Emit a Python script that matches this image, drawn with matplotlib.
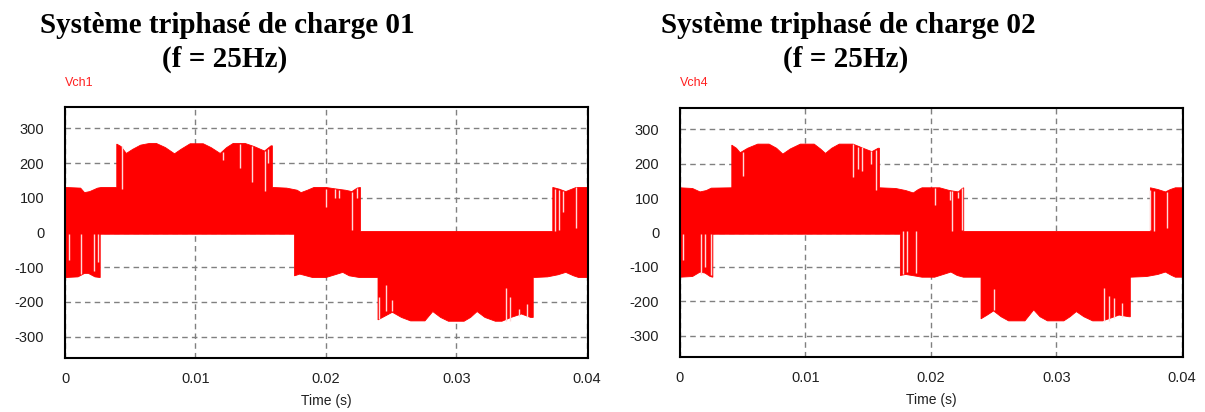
import matplotlib
matplotlib.use("Agg")
import matplotlib.pyplot as plt
import numpy as np

plt.rcParams["axes.unicode_minus"] = False

# envelope of the PWM load voltage (time in s, volts)
t1_up = [0, 0.0012, 0.0015, 0.0019, 0.0025, 0.0028, 0.00397, 0.00397, 0.0043, 0.0047, 0.0052, 0.0058,
         0.0065, 0.0070, 0.0077, 0.0084, 0.0089, 0.0096, 0.0106, 0.0112, 0.0119, 0.0124, 0.0129, 0.0138,
         0.0145, 0.0153, 0.0158, 0.0159, 0.0159, 0.0170, 0.0178, 0.0181, 0.0186, 0.0191, 0.0200, 0.0207,
         0.0215, 0.0220, 0.0224, 0.02265, 0.02265, 0.0374, 0.0374, 0.0379, 0.0384, 0.0388, 0.0392, 0.0401]
v1_up = [130, 128, 115, 118, 128, 130, 130, 255, 248, 228, 240, 252,
         257, 257, 245, 227, 240, 256, 256, 245, 228, 245, 257, 257,
         248, 235, 250, 250, 130, 128, 122, 115, 122, 130, 130, 126,
         122, 118, 128, 130, 3, 3, 130, 125, 118, 124, 130, 130]
t1_lo = [0, 0.0010, 0.0015, 0.0018, 0.0023, 0.0027, 0.0027, 0.0176, 0.0176, 0.0180, 0.0185, 0.0190,
         0.0200, 0.0207, 0.0213, 0.0218, 0.0226, 0.0240, 0.0240, 0.0246, 0.0251, 0.0258, 0.0265, 0.0276,
         0.0282, 0.0288, 0.0294, 0.0306, 0.0311, 0.0316, 0.0322, 0.0330, 0.0335, 0.0342, 0.0350, 0.0357,
         0.0359, 0.0359, 0.0370, 0.0378, 0.0384, 0.0390, 0.0394, 0.0401]
v1_lo = [-130, -128, -118, -118, -128, -130, -5, -5, -125, -120, -125, -130,
         -130, -122, -115, -125, -130, -130, -252, -240, -230, -245, -255, -255,
         -228, -245, -256, -256, -245, -228, -245, -256, -256, -245, -235, -245,
         -245, -130, -128, -122, -115, -125, -130, -130]
# gaps between pulses (time, from, to)
n1_t = [0.0003, 0.00126, 0.0022, 0.0025, 0.00435, 0.0121, 0.0134, 0.0143, 0.0153, 0.0156,
        0.0200, 0.0207, 0.0210, 0.0220, 0.0224, 0.0241, 0.0246, 0.0251, 0.0338, 0.0341,
        0.0348, 0.0354, 0.0376, 0.0379, 0.0382, 0.0392]
n1_lo = [-80, -120, -110, -85, 125, 210, 185, 145, 120, 200,
         73, 100, 100, 8, 100, -250, -225, -225, -256, -256,
         -240, -245, 3, 8, 60, 12]
n1_hi = [-5, -5, -5, -5, 250, 232, 255, 250, 235, 240,
         125, 126, 122, 118, 128, -185, -150, -195, -160, -185,
         -220, -205, 125, 122, 120, 130]

t2_up = [0, 0.0010, 0.0016, 0.0021, 0.0025, 0.00413, 0.00413, 0.0045, 0.0048, 0.0054, 0.0062, 0.0071,
         0.0077, 0.0082, 0.0088, 0.0096, 0.0107, 0.0112, 0.0116, 0.0121, 0.0127, 0.0138, 0.0146, 0.0153,
         0.0158, 0.0159, 0.0159, 0.0172, 0.0180, 0.0186, 0.0190, 0.0193, 0.0207, 0.0215, 0.0222, 0.0225,
         0.02262, 0.02262, 0.0375, 0.0375, 0.0381, 0.0387, 0.0391, 0.0395, 0.0401]
v2_up = [130, 128, 118, 122, 129, 130, 254, 245, 232, 245, 257, 257,
         245, 228, 243, 257, 257, 243, 230, 245, 257, 257, 245, 235,
         245, 245, 130, 128, 122, 115, 125, 130, 130, 122, 118, 128,
         130, 3, 3, 130, 125, 118, 125, 130, 130]
t2_lo = [0, 0.0010, 0.0016, 0.0020, 0.0024, 0.00262, 0.00262, 0.01757, 0.01757, 0.0180, 0.0185, 0.0193,
         0.0203, 0.0210, 0.0216, 0.0221, 0.0226, 0.0240, 0.0240, 0.0245, 0.0250, 0.0256, 0.0262, 0.0275,
         0.0282, 0.0287, 0.0293, 0.0306, 0.0311, 0.0316, 0.0322, 0.0329, 0.0337, 0.0344, 0.0350, 0.0358,
         0.0359, 0.0359, 0.0372, 0.0381, 0.0387, 0.0392, 0.0395, 0.0401]
v2_lo = [-130, -128, -115, -118, -128, -130, -5, -5, -125, -122, -125, -130,
         -130, -122, -115, -125, -130, -130, -251, -240, -228, -245, -257, -257,
         -225, -245, -257, -257, -245, -230, -245, -257, -257, -248, -240, -245,
         -245, -130, -128, -122, -115, -125, -130, -130]
n2_t = [0.0002, 0.00166, 0.00197, 0.0025, 0.0050, 0.0138, 0.0142, 0.0145, 0.0152, 0.0156,
        0.0203, 0.0215, 0.0217, 0.0222, 0.0225, 0.0178, 0.0181, 0.0188, 0.0250, 0.0338,
        0.0342, 0.0346, 0.0352, 0.0375, 0.0378, 0.0388]
n2_lo = [-80, -120, -100, -125, 165, 160, 185, 180, 200, 125,
         80, 95, 3, 100, 8, -120, -115, -118, -225, -256,
         -256, -250, -245, 8, 3, 12]
n2_hi = [-5, -5, -5, -5, 235, 257, 250, 248, 237, 240,
         130, 122, 120, 118, 128, 3, 3, 3, -165, -160,
         -185, -190, -205, 125, 122, 118]

x_ticks = [0, 0.01, 0.02, 0.03, 0.04]
x_labels = ["0", "0.01", "0.02", "0.03", "0.04"]
y_ticks = [-300, -200, -100, 0, 100, 200, 300]

titles = ["Système triphasé de charge 01", "Système triphasé de charge 02"]
subtitle = "(f = 25Hz)"
names = ["Vch1", "Vch4"]

sans = "Liberation Sans"
serif = "Liberation Serif"


def draw_panel(ax, t_up, v_up, t_lo, v_lo, n_t, n_lo, n_hi):
    xs = np.concatenate([t_up, t_lo[::-1]])
    ys = np.concatenate([v_up, v_lo[::-1]])
    ax.fill(xs, ys, color="#ff0000", lw=0.6, ec="#ff0000", zorder=2)
    ax.vlines(n_t, n_lo, n_hi, color="#ffd8d8", lw=1.0, zorder=3)
    ax.set_xlim(0, 0.0401)
    ax.set_ylim(-362, 362)
    ax.set_xticks(x_ticks)
    ax.set_xticklabels(x_labels)
    ax.set_yticks(y_ticks)
    ax.tick_params(length=0, labelsize=10.5, colors="#202020")
    ax.tick_params(axis="x", pad=10)
    ax.tick_params(axis="y", pad=15)
    for lab in ax.get_xticklabels() + ax.get_yticklabels():
        lab.set_fontfamily(sans)
    ax.grid(True, color="#808080", linestyle=(0, (4, 3)), lw=1.0, zorder=1)
    ax.set_axisbelow(True)
    for sp in ax.spines.values():
        sp.set_linewidth(1.5)
        sp.set_color("black")
    ax.set_xlabel("Time (s)", fontsize=10, family=sans, labelpad=6, color="#202020")


fig = plt.figure(figsize=(12.05, 4.12), dpi=100)
ax1 = fig.add_axes([65 / 1205, 1 - 358 / 412, 523 / 1205, 251 / 412])
ax2 = fig.add_axes([680 / 1205, 1 - 357 / 412, 503 / 1205, 249 / 412])

draw_panel(ax1, np.array(t1_up), np.array(v1_up), np.array(t1_lo), np.array(v1_lo), n1_t, n1_lo, n1_hi)
draw_panel(ax2, np.array(t2_up), np.array(v2_up), np.array(t2_lo), np.array(v2_lo), n2_t, n2_lo, n2_hi)

for cx, title in zip([227, 848], titles):
    fig.text(cx / 1205, 1 - 33 / 412, title, ha="center", va="baseline", fontsize=21,
             family=serif, weight="bold")
    fig.text((cx - 2) / 1205, 1 - 67 / 412, subtitle, ha="center", va="baseline", fontsize=21,
             family=serif, weight="bold")
fig.text(65 / 1205, 1 - 83 / 412, names[0], color="#ff2020", fontsize=9, family=sans, va="center")
fig.text(680 / 1205, 1 - 83 / 412, names[1], color="#ff2020", fontsize=9, family=sans, va="center")

fig.savefig("out.png", dpi=100)
